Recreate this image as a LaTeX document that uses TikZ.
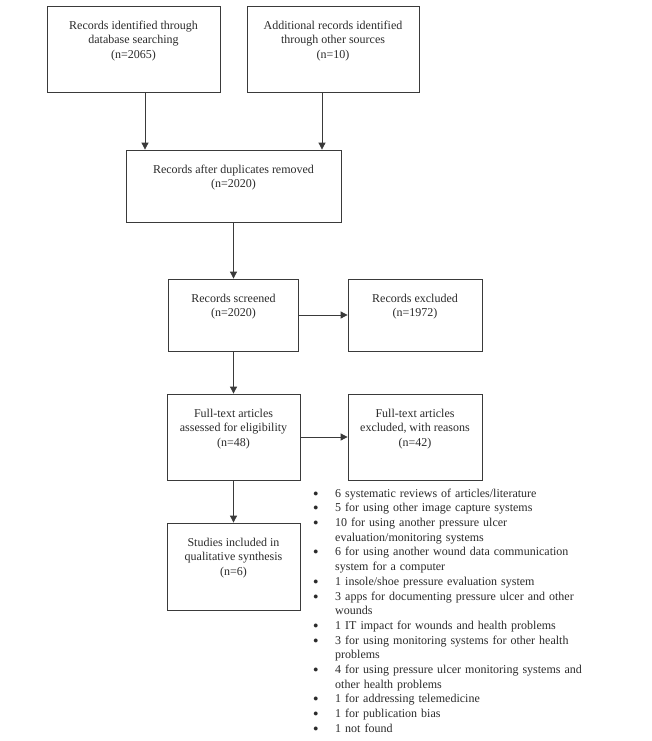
\documentclass[tikz,border=0pt]{standalone}
\usepackage{fontspec}
\setmainfont{Liberation Serif}
\usetikzlibrary{arrows.meta}
\definecolor{linecolour}{HTML}{3A3A3A}
\definecolor{textcolour}{HTML}{2B2B2B}
\newcommand{\reasonitem}{\hangindent=22pt\hangafter=1\makebox[22pt][l]{\raisebox{1pt}{\fontsize{9}{9}\selectfont ●}}}

\begin{document}
\begin{tikzpicture}[x=1pt,y=-1pt,
  box/.style={draw=linecolour,line width=0.8pt,inner sep=0pt},
  txt/.style={anchor=north,align=center,inner sep=0pt,yshift=-15pt,text=textcolour,font=\fontsize{12}{14.7}\selectfont},
  arr/.style={draw=linecolour,line width=0.8pt,-{Triangle[length=7pt,width=7pt]}}]
\useasboundingbox[fill=white] (0,0) rectangle (651,741);

% Records identified through database searching
\node[box,minimum width=173pt,minimum height=86pt,label={[txt]north:{Records identified through\\database searching\\(n=2065)}}] (ident) at (133.5,49) {};
% Additional records
\node[box,minimum width=172pt,minimum height=86pt,label={[txt]north:{Additional records identified\\through other sources\\(n=10)}}] (other) at (333,49) {};
% Duplicates removed
\node[box,minimum width=215pt,minimum height=72pt,label={[txt]north:{Records after duplicates removed\\(n=2020)}}] (dupl) at (233.5,186) {};
\draw[arr] ([xshift=11.5pt]ident.south) -- ([xshift=11.5pt]ident.south |- dupl.north);
\draw[arr] ([xshift=-11pt]other.south) -- ([xshift=-11pt]other.south |- dupl.north);

% Screening
\node[box,minimum width=130pt,minimum height=72pt,label={[txt]north:{Records screened\\(n=2020)}}] (screen) at (233.5,315) {};
\node[box,minimum width=134pt,minimum height=72pt,label={[txt]north:{Records excluded\\(n=1972)}}] (excl) at (415,315) {};
\draw[arr] (dupl) -- (screen);
\draw[arr] (screen) -- (excl);

% Eligibility
\node[box,minimum width=133pt,minimum height=86pt,label={[txt]north:{Full-text articles\\assessed for eligibility\\(n=48)}}] (fulltext) at (233.5,437) {};
\node[box,minimum width=134pt,minimum height=86pt,label={[txt]north:{Full-text articles\\excluded, with reasons\\(n=42)}}] (ftexcl) at (415,437) {};
\draw[arr] (screen) -- (fulltext);
\draw[arr] (fulltext) -- (ftexcl);

% Included
\node[box,minimum width=133pt,minimum height=87pt,label={[txt]north:{Studies included in\\qualitative synthesis\\(n=6)}}] (incl) at (233.5,566.5) {};
\draw[arr] (fulltext) -- (incl);

% Reasons for exclusion
\node[anchor=north west,inner sep=0pt,text width=274pt,text=textcolour,font=\fontsize{12}{14.7}\selectfont] (reasons) at (313,488.5) {%
\setlength\parindent{0pt}\raggedright
\reasonitem 6 systematic reviews of articles/literature\par
\reasonitem 5 for using other image capture systems\par
\reasonitem 10 for using another pressure ulcer evaluation/monitoring systems\par
\reasonitem 6 for using another wound data communication system for a computer\par
\reasonitem 1 insole/shoe pressure evaluation system\par
\reasonitem 3 apps for documenting pressure ulcer and other wounds\par
\reasonitem 1 IT impact for wounds and health problems\par
\reasonitem 3 for using monitoring systems for other health problems\par
\reasonitem 4 for using pressure ulcer monitoring systems and other health problems\par
\reasonitem 1 for addressing telemedicine\par
\reasonitem 1 for publication bias\par
\reasonitem 1 not found\par};

\end{tikzpicture}
\end{document}
